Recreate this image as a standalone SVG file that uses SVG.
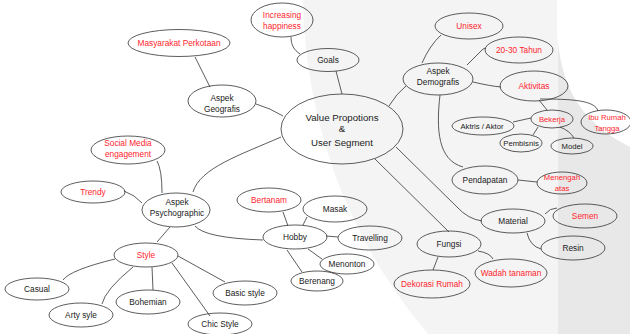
<svg xmlns="http://www.w3.org/2000/svg" width="630" height="334" viewBox="0 0 630 334">
<style>
.n{fill:none;stroke:#333;stroke-width:0.8}
.c path{fill:none;stroke:#333;stroke-width:0.8}
text{font-family:"Liberation Sans",Arial,sans-serif;font-size:8.3px;fill:#222;text-anchor:middle}
.r{fill:#ff1e2d}
.s{font-size:7.7px}
.b{font-size:9.7px}
</style>
<g id="background">
<path d="M303,0 C305,110 340,230 428,334 L558,334 L558,0 Z" fill="#f4f4f4"/>
<rect x="558" y="0" width="72" height="334" fill="#e8e8e8"/>
<path d="M557,0 L557,30 C560,80 575,120 630,147 L630,0 Z" fill="#ffffff"/>
</g>
<g class="c" id="connectors">
<path d="M195,57 L210,87"/>
<path d="M256,104 Q270,108 283,116"/>
<path d="M291,37 C291,45 294,50 300,54"/>
<path d="M336,71 L342,94"/>
<path d="M389,106 Q396,94 406,86"/>
<path d="M281,137 C240,155 200,168 193,192"/>
<path d="M375,159 L449,232"/>
<path d="M396,147 L457,207 Q468,219 482,221"/>
<path d="M422,63 Q430,45 441,35"/>
<path d="M467,65 L482,50 Q484,48 486,48"/>
<path d="M473,82 Q490,86 501,87"/>
<path d="M539,100 L547,110"/>
<path d="M540,99 C570,99 595,100 598,111"/>
<path d="M513,122 L531,118"/>
<path d="M538,127 L533,135"/>
<path d="M560,127 Q570,131 574,138"/>
<path d="M440,95 C436,130 438,160 463,167"/>
<path d="M518,180 L537,182"/>
<path d="M545,214 Q550,208 557,208"/>
<path d="M527,233 Q530,246 541,249"/>
<path d="M478,251 Q490,253 493,259"/>
<path d="M438,257 L433,270"/>
<path d="M157,161 Q162,170 162,193"/>
<path d="M124,191 Q135,195 142,203"/>
<path d="M195,226 Q205,238 263,240"/>
<path d="M170,227 L157,242"/>
<path d="M288,226 L283,212"/>
<path d="M303,225 L307,217"/>
<path d="M326,236 L338,237"/>
<path d="M308,249 L322,259"/>
<path d="M287,250 L302,272"/>
<path d="M115,259 Q70,270 63,280"/>
<path d="M133,267 Q105,290 102,304"/>
<path d="M152,267 L153,290"/>
<path d="M172,263 L210,316"/>
<path d="M178,256 L225,282"/>
</g>
<g id="value"><ellipse class="n" cx="342" cy="129" rx="61" ry="35"/><text class="b" x="342" y="120.5">Value Propotions</text><text class="b" x="342" y="132">&amp;</text><text class="b" x="342" y="145.5">User Segment</text></g>
<g id="masyarakat"><ellipse class="n" cx="179" cy="43" rx="51" ry="13.5"/><text class="r" x="179" y="46">Masyarakat Perkotaan</text></g>
<g id="increasing"><ellipse class="n" cx="282" cy="20" rx="31" ry="17"/><text class="r" x="282" y="18">Increasing</text><text class="r" x="282" y="29">happiness</text></g>
<g id="geografis"><ellipse class="n" cx="222" cy="101" rx="34" ry="16"/><text x="222" y="101">Aspek</text><text x="222" y="111.5">Geografis</text></g>
<g id="goals"><ellipse class="n" cx="328" cy="60" rx="31" ry="11.5"/><text x="328" y="63">Goals</text></g>
<g id="social"><ellipse class="n" cx="128" cy="150" rx="37" ry="14"/><text class="r" x="128" y="146">Social Media</text><text class="r" x="128" y="157">engagement</text></g>
<g id="unisex"><ellipse class="n" cx="469" cy="26" rx="34" ry="13"/><text class="r" x="469" y="29">Unisex</text></g>
<g id="tahun"><ellipse class="n" cx="519" cy="50" rx="34" ry="13"/><text class="r" x="519" y="53">20-30 Tahun</text></g>
<g id="demografis"><ellipse class="n" cx="438" cy="79" rx="35" ry="16"/><text x="438" y="74">Aspek</text><text x="438" y="85">Demografis</text></g>
<g id="aktivitas"><ellipse class="n" cx="534" cy="86" rx="34" ry="15"/><text class="r" x="534" y="89">Aktivitas</text></g>
<g id="bekerja"><ellipse class="n" cx="552" cy="119" rx="21" ry="9"/><text class="r s" x="552" y="122">Bekerja</text></g>
<g id="ibu"><ellipse class="n" cx="606" cy="122" rx="25" ry="12"/><text class="r s" x="607" y="120">Ibu Rumah</text><text class="r s" x="607" y="131">Tangga</text></g>
<g id="aktris"><ellipse class="n" cx="483" cy="126" rx="31" ry="9"/><text class="s" x="482" y="129">Aktris / Aktor</text></g>
<g id="pembisnis"><ellipse class="n" cx="521" cy="143" rx="21" ry="9"/><text class="s" x="521" y="146">Pembisnis</text></g>
<g id="model"><ellipse class="n" cx="572" cy="146" rx="21" ry="8"/><text class="s" x="572" y="149">Model</text></g>
<g id="pendapatan"><ellipse class="n" cx="485" cy="180" rx="33" ry="14"/><text x="485" y="183">Pendapatan</text></g>
<g id="menengah"><ellipse class="n" cx="562" cy="183" rx="25" ry="11"/><text class="r s" x="562" y="180">Menengah</text><text class="r s" x="562" y="190.5">atas</text></g>
<g id="material"><ellipse class="n" cx="513" cy="221" rx="32" ry="12"/><text x="513" y="224">Material</text></g>
<g id="semen"><ellipse class="n" cx="585" cy="216" rx="32" ry="12"/><text class="r" x="585" y="219">Semen</text></g>
<g id="resin"><ellipse class="n" cx="573" cy="248" rx="32" ry="12"/><text x="573" y="251">Resin</text></g>
<g id="fungsi"><ellipse class="n" cx="449" cy="244" rx="32" ry="13"/><text x="449" y="247">Fungsi</text></g>
<g id="wadah"><ellipse class="n" cx="511" cy="273" rx="36" ry="14"/><text class="r" x="511" y="276">Wadah tanaman</text></g>
<g id="dekorasi"><ellipse class="n" cx="432" cy="284" rx="38" ry="14"/><text class="r" x="432" y="287">Dekorasi Rumah</text></g>
<g id="trendy"><ellipse class="n" cx="93" cy="192" rx="32" ry="11"/><text class="r" x="93" y="195">Trendy</text></g>
<g id="psychographic"><ellipse class="n" cx="176" cy="210" rx="34" ry="17"/><text x="177" y="205">Aspek</text><text x="177" y="215.5">Psychographic</text></g>
<g id="bertanam"><ellipse class="n" cx="269" cy="200" rx="32" ry="12"/><text class="r" x="269" y="203">Bertanam</text></g>
<g id="hobby"><ellipse class="n" cx="295" cy="237" rx="32" ry="12"/><text x="295" y="240">Hobby</text></g>
<g id="masak"><ellipse class="n" cx="335" cy="209" rx="32" ry="13"/><text x="335" y="212">Masak</text></g>
<g id="travelling"><ellipse class="n" cx="370" cy="238" rx="32" ry="12"/><text x="370" y="241">Travelling</text></g>
<g id="menonton"><ellipse class="n" cx="347" cy="264" rx="27" ry="10"/><text x="347" y="267">Menonton</text></g>
<g id="berenang"><ellipse class="n" cx="317" cy="281" rx="26" ry="10"/><text x="317" y="284">Berenang</text></g>
<g id="style"><ellipse class="n" cx="146" cy="255" rx="32" ry="12"/><text class="r" x="146" y="258">Style</text></g>
<g id="casual"><ellipse class="n" cx="37" cy="289" rx="32" ry="11"/><text x="37" y="292">Casual</text></g>
<g id="arty"><ellipse class="n" cx="81" cy="315" rx="32" ry="12"/><text x="81" y="318">Arty syle</text></g>
<g id="bohemian"><ellipse class="n" cx="148" cy="302" rx="32" ry="12"/><text x="148" y="305">Bohemian</text></g>
<g id="basic"><ellipse class="n" cx="245" cy="293" rx="32" ry="12"/><text x="245" y="296">Basic style</text></g>
<g id="chic"><ellipse class="n" cx="220" cy="324" rx="32" ry="11"/><text x="220" y="327">Chic Style</text></g>
</svg>
